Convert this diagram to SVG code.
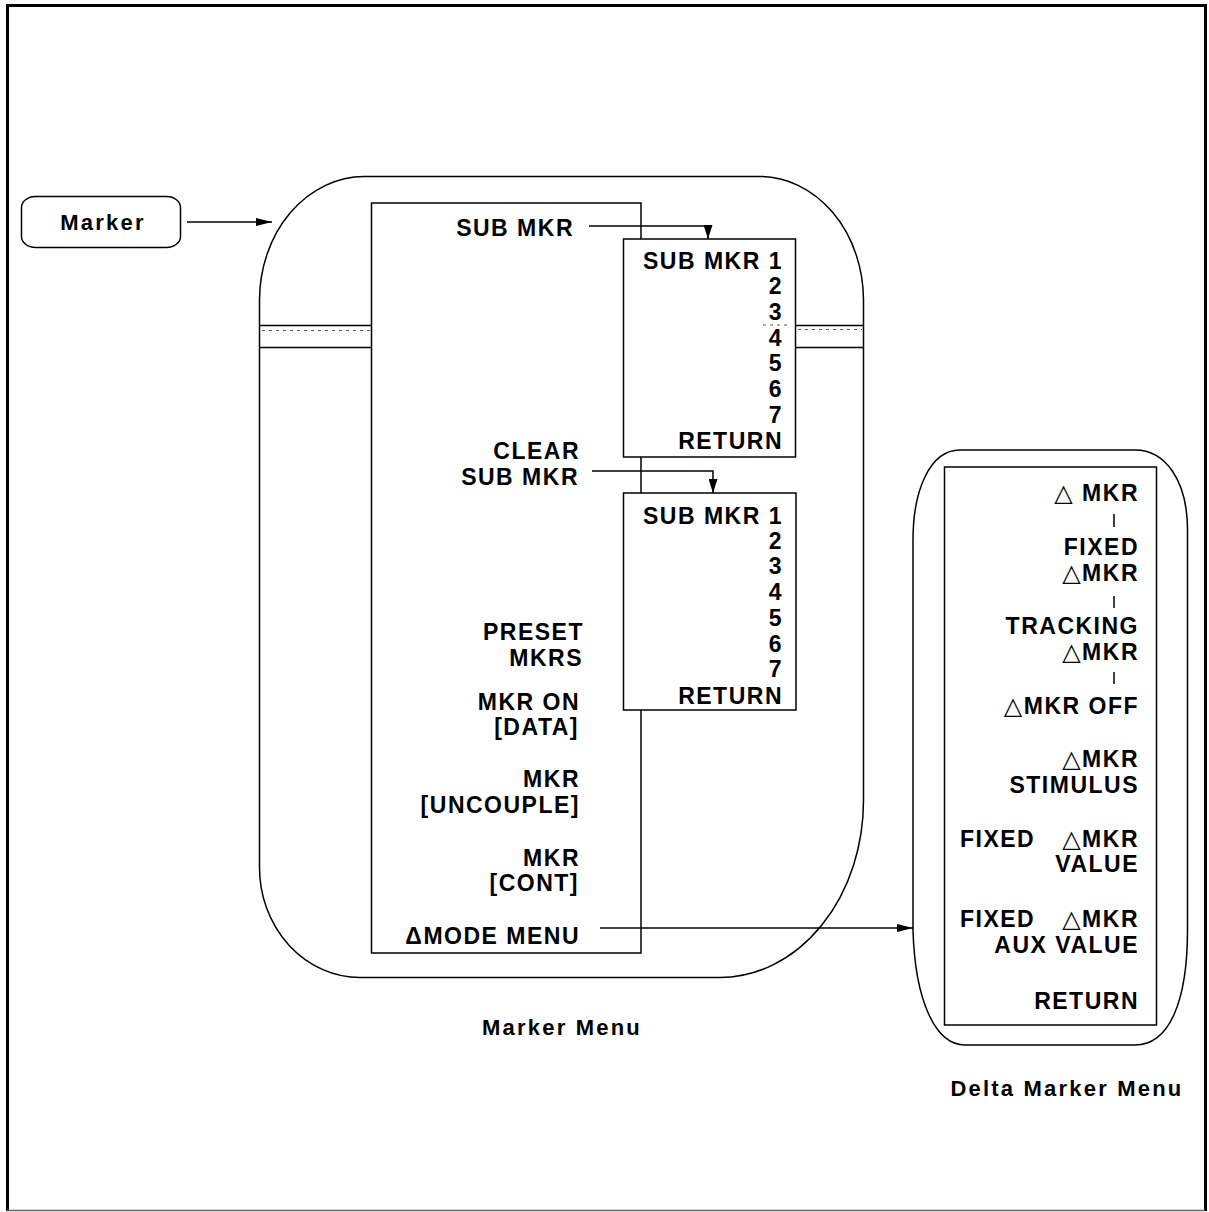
<svg xmlns="http://www.w3.org/2000/svg" width="1209" height="1212" viewBox="0 0 1209 1212">
<style>
.t{font-family:"Liberation Sans",Arial,sans-serif;font-weight:bold;font-size:23px;letter-spacing:1.5px;text-anchor:end;fill:#000}
.s{text-anchor:start}
.cap{font-family:"Liberation Sans",Arial,sans-serif;font-weight:bold;font-size:22px;letter-spacing:2.2px;text-anchor:middle;fill:#000}
.tri{font-family:"DejaVu Sans",sans-serif;font-weight:normal;font-size:24px}
.ln{fill:none;stroke:#000;stroke-width:1.5}
.box{fill:#fff;stroke:#000;stroke-width:1.5}
.dot{fill:none;stroke:#555;stroke-width:1;stroke-dasharray:3 4}
</style>
<defs>
<marker id="ah" viewBox="0 0 16 8" refX="16" refY="4" markerWidth="16" markerHeight="8" markerUnits="userSpaceOnUse" orient="auto">
<path d="M0,0 L16,4 L0,8 Z" fill="#000"/>
</marker>
<marker id="ahd" viewBox="0 0 14 9" refX="14" refY="4.5" markerWidth="14" markerHeight="9" markerUnits="userSpaceOnUse" orient="auto">
<path d="M0,0 L14,4.5 L0,9 Z" fill="#000"/>
</marker>
</defs>
<rect width="1209" height="1212" fill="#fff"/>
<g id="frame">
<line x1="7.5" y1="4" x2="7.5" y2="1211" stroke="#000" stroke-width="3"/>
<line x1="6" y1="5.5" x2="1207" y2="5.5" stroke="#000" stroke-width="3"/>
<line x1="1205.5" y1="4" x2="1205.5" y2="1211" stroke="#000" stroke-width="3"/>
<line x1="7" y1="1210.5" x2="1205" y2="1210.5" stroke="#666" stroke-width="1.5"/>
</g>
<g id="marker-key">
<rect x="21.5" y="196.5" width="159" height="51" rx="14" ry="11" class="box"/>
<text x="103" y="230" class="cap">Marker</text>
</g>
<g id="marker-menu">
<path class="ln" d="M364,176.5 H760 A104,124 0 0 1 863.5,300 V800 A144,177 0 0 1 720,977.5 H360 A101,110 0 0 1 259.5,867 V300 A105,124 0 0 1 364,176.5 Z"/>
<rect x="371.5" y="203" width="269.5" height="750" class="box"/>
<line x1="259.5" y1="325.5" x2="371.5" y2="325.5" class="ln"/>
<line x1="259.5" y1="347.5" x2="371.5" y2="347.5" class="ln"/>
<line x1="262" y1="330.5" x2="370" y2="330.5" class="dot"/>
<line x1="796" y1="325.5" x2="863.5" y2="325.5" class="ln"/>
<line x1="796" y1="347.5" x2="863.5" y2="347.5" class="ln"/>
<line x1="798" y1="329.5" x2="862" y2="329.5" class="dot"/>
<text x="574" y="236" class="t">SUB MKR</text>
<text x="580" y="459" class="t">CLEAR</text>
<text x="579" y="485" class="t">SUB MKR</text>
<text x="584" y="640" class="t">PRESET</text>
<text x="583" y="666" class="t">MKRS</text>
<text x="580" y="710" class="t">MKR ON</text>
<text x="579" y="735" class="t">[DATA]</text>
<text x="580" y="787" class="t">MKR</text>
<text x="580" y="813" class="t">[UNCOUPLE]</text>
<text x="580" y="866" class="t">MKR</text>
<text x="579" y="891" class="t">[CONT]</text>
<text x="580" y="944" class="t">ΔMODE MENU</text>
<text x="562" y="1035" class="cap">Marker Menu</text>
</g>
<g id="sub-menu-1">
<rect x="623.5" y="239" width="172" height="218" class="box"/>
<line x1="763" y1="325" x2="787" y2="325" class="dot"/>
<text x="783" y="269" class="t">SUB MKR 1</text>
<text x="783" y="294" class="t">2</text>
<text x="783" y="320" class="t">3</text>
<text x="783" y="346" class="t">4</text>
<text x="783" y="371" class="t">5</text>
<text x="783" y="397" class="t">6</text>
<text x="783" y="423" class="t">7</text>
<text x="783" y="449" class="t">RETURN</text>
</g>
<g id="sub-menu-2">
<rect x="623.5" y="493" width="172.5" height="217" class="box"/>
<text x="783" y="524" class="t">SUB MKR 1</text>
<text x="783" y="549" class="t">2</text>
<text x="783" y="574" class="t">3</text>
<text x="783" y="600" class="t">4</text>
<text x="783" y="626" class="t">5</text>
<text x="783" y="652" class="t">6</text>
<text x="783" y="677" class="t">7</text>
<text x="783" y="704" class="t">RETURN</text>
</g>
<g id="delta-menu">
<path class="ln" d="M960,450 L1135,450 C1165,450 1187.5,480 1187.5,530 L1187.5,930 C1187.5,1000 1170,1045 1135,1045 L965,1045 C935,1045 915,1000 913,930 L913,540 C913,490 930,450 960,450 Z"/>
<rect x="944.5" y="467" width="212" height="558" class="box"/>
<text x="1139" y="501" class="t"><tspan class="tri">△</tspan> MKR</text>
<line x1="1114" y1="514" x2="1114" y2="527" class="ln" stroke-width="1"/>
<text x="1139" y="555" class="t">FIXED</text>
<text x="1139" y="581" class="t"><tspan class="tri">△</tspan>MKR</text>
<line x1="1114" y1="596" x2="1114" y2="608" class="ln" stroke-width="1"/>
<text x="1139" y="634" class="t">TRACKING</text>
<text x="1139" y="660" class="t"><tspan class="tri">△</tspan>MKR</text>
<line x1="1114" y1="672" x2="1114" y2="684" class="ln" stroke-width="1"/>
<text x="1139" y="714" class="t"><tspan class="tri">△</tspan>MKR OFF</text>
<text x="1139" y="767" class="t"><tspan class="tri">△</tspan>MKR</text>
<text x="1139" y="793" class="t">STIMULUS</text>
<text x="960" y="847" class="t s">FIXED</text>
<text x="1139" y="847" class="t"><tspan class="tri">△</tspan>MKR</text>
<text x="1139" y="872" class="t">VALUE</text>
<text x="960" y="927" class="t s">FIXED</text>
<text x="1139" y="927" class="t"><tspan class="tri">△</tspan>MKR</text>
<text x="1139" y="953" class="t">AUX VALUE</text>
<text x="1139" y="1009" class="t">RETURN</text>
<text x="1067" y="1096" class="cap">Delta Marker Menu</text>
</g>
<g id="connectors">
<line x1="187" y1="222" x2="272" y2="222" class="ln" marker-end="url(#ah)"/>
<polyline points="589,226 708,226 708,239" class="ln" marker-end="url(#ahd)"/>
<polyline points="592,471 713,471 713,493" class="ln" marker-end="url(#ahd)"/>
<line x1="600" y1="928" x2="913" y2="928" class="ln" marker-end="url(#ah)"/>
</g>
</svg>
